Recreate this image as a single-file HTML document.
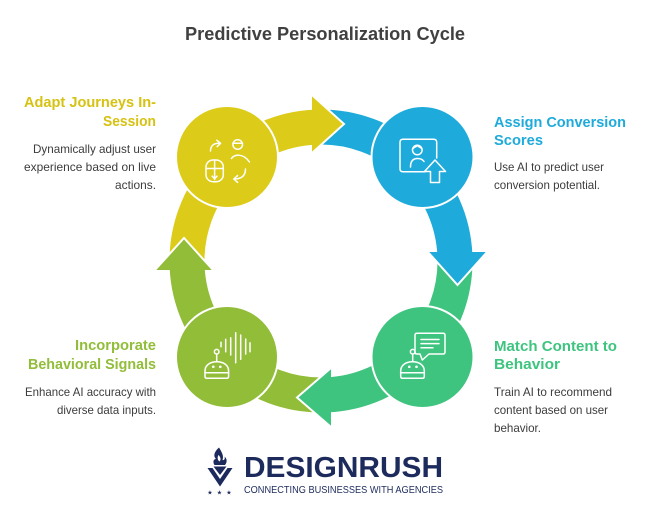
<!DOCTYPE html>
<html>
<head>
<meta charset="utf-8">
<style>
  html,body{margin:0;padding:0;background:#ffffff;}
  svg{display:block;}
  .t{font-family:"Liberation Sans",Arial,sans-serif;}
  .h{font-family:"Liberation Sans",Arial,sans-serif;font-weight:bold;font-size:14.5px;}
  .b{font-family:"Liberation Sans",Arial,sans-serif;font-size:11.8px;fill:#3c3c3c;}
  .ic{fill:none;stroke:#ffffff;stroke-width:1.5;stroke-linecap:round;stroke-linejoin:round;}
</style>
</head>
<body>
<svg width="650" height="514" viewBox="0 0 650 514" xmlns="http://www.w3.org/2000/svg">
  <rect width="650" height="514" fill="#ffffff"/>

  <!-- Title -->
  <text class="t" x="185" y="40" font-size="18" font-weight="bold" fill="#404040" textLength="280" lengthAdjust="spacingAndGlyphs">Predictive Personalization Cycle</text>

  <!-- Ring bands -->
  <g fill="none" stroke-width="35" stroke-linecap="butt">
    <path d="M187.0,263.3 A134,134 0 0 1 315.2,127.1" stroke="#dccb18"/>
    <path d="M318.7,127.0 A134,134 0 0 1 454.9,255.2" stroke="#1eabdb"/>
    <path d="M455.0,258.7 A134,134 0 0 1 326.8,394.9" stroke="#3ec47f"/>
    <path d="M323.3,395.0 A134,134 0 0 1 187.1,266.8" stroke="#92bd39"/>
  </g>

  <!-- Arrow heads (white outline only on slanted edges) -->
  <g stroke="#ffffff" stroke-width="2" stroke-linejoin="miter">
    <path d="M312,95 L344,124 L312,153" fill="#dccb18"/>
    <path d="M487,252 L457.5,285 L428,252" fill="#1eabdb"/>
    <path d="M331,427 L297,397.5 L331,368" fill="#3ec47f"/>
    <path d="M155,270 L184,238 L213,270" fill="#92bd39"/>
  </g>

  <!-- Circles -->
  <g stroke="#ffffff" stroke-width="2">
    <circle cx="227" cy="157" r="51" fill="#dccb18"/>
    <circle cx="422.5" cy="157" r="51" fill="#1eabdb"/>
    <circle cx="422.5" cy="357" r="51" fill="#3ec47f"/>
    <circle cx="227" cy="357" r="51" fill="#92bd39"/>
  </g>

  <!-- Yellow icon -->
  <g class="ic">
    <path d="M210.5,151 C210.5,145.5 214,142.8 220,143.3"/>
    <path d="M216.8,140.2 L220.6,143.3 L217.2,146.6"/>
    <circle cx="237.7" cy="144.5" r="4.8"/>
    <path d="M233,143.3 L242.4,143.3"/>
    <path d="M231.5,158.5 C233.5,154.5 243,152.5 249.5,162"/>
    <rect x="206" y="160" width="17.3" height="21.7" rx="7"/>
    <path d="M214.6,160 L214.6,179.5 M206,168.5 L223.3,168.5"/>
    <path d="M212.2,176.2 L214.6,178.7 L217,176.2"/>
    <path d="M245.5,169 C245.5,176 241.5,179 234,179"/>
    <path d="M237.6,175.6 L233.8,179 L237.6,182.4"/>
  </g>

  <!-- Blue icon -->
  <g class="ic">
    <path d="M425,171.7 L403,171.7 Q400,171.7 400,168.7 L400,142.3 Q400,139.3 403,139.3 L433.7,139.3 Q436.7,139.3 436.7,142.3 L436.7,158"/>
    <circle cx="417.3" cy="150" r="4.8"/>
    <path d="M412.6,149 C414,146.5 416,147.5 417.3,145.2 C418.6,147.5 420.6,146.5 422,149"/>
    <path d="M410.5,167 C410.5,161 413,158.5 417.5,158.5 C420.5,158.5 422.8,159.6 424,161.5"/>
    <path d="M435,160 L445.5,171.5 L439.5,171.5 L439.5,182.5 L430.5,182.5 L430.5,171.5 L424.5,171.5 Z"/>
  </g>

  <!-- Green icon -->
  <g class="ic">
    <path d="M429,354 L443,354 Q445,354 445,352 L445,335.3 Q445,333.3 443,333.3 L417,333.3 Q415,333.3 415,335.3 L415,352 Q415,354 417,354 L420,354 L422.3,360 Z"/>
    <path d="M421,339.5 L439,339.5 M421,343.6 L439,343.6 M421,347.7 L433,347.7"/>
    <circle cx="412.7" cy="351.7" r="2.3"/>
    <path d="M412.7,354 L412.7,361.7"/>
    <path d="M402.5,378.3 L422.5,378.3 Q424.3,378.3 424.3,376.5 L424.3,371 C424.3,365 419,361.7 412.5,361.7 C406,361.7 400.7,365 400.7,371 L400.7,376.5 Q400.7,378.3 402.5,378.3 Z"/>
    <path d="M400.7,372.7 L424.3,372.7"/>
    <circle cx="409.3" cy="366.8" r="0.6"/>
    <circle cx="416.5" cy="366.8" r="0.6"/>
  </g>

  <!-- Olive icon -->
  <g class="ic">
    <circle cx="216.7" cy="351.7" r="2.3"/>
    <path d="M216.7,354 L216.7,361.7"/>
    <path d="M206.8,378.3 L226.8,378.3 Q228.6,378.3 228.6,376.5 L228.6,371 C228.6,365 223.3,361.7 216.8,361.7 C210.3,361.7 205,365 205,371 L205,376.5 Q205,378.3 206.8,378.3 Z"/>
    <path d="M205,372.7 L228.6,372.7"/>
    <circle cx="213.3" cy="366.8" r="0.6"/>
    <circle cx="220.3" cy="366.8" r="0.6"/>
    <path d="M221,342.3 L221,346.7 M225.7,339.3 L225.7,351.7 M230.7,337.7 L230.7,355 M235.7,332.7 L235.7,362.7 M240.7,335 L240.7,359.3 M245.7,339 L245.7,354 M250,342.7 L250,351.7"/>
  </g>

  <!-- Yellow text (top-left) -->
  <text class="h" x="24" y="107" fill="#d6c212" textLength="132" lengthAdjust="spacingAndGlyphs">Adapt Journeys In-</text>
  <text class="h" x="103" y="126" fill="#d6c212" textLength="53" lengthAdjust="spacingAndGlyphs">Session</text>
  <text class="b" x="33" y="153" textLength="123" lengthAdjust="spacingAndGlyphs">Dynamically adjust user</text>
  <text class="b" x="24" y="171" textLength="132" lengthAdjust="spacingAndGlyphs">experience based on live</text>
  <text class="b" x="115" y="189" textLength="41" lengthAdjust="spacingAndGlyphs">actions.</text>

  <!-- Blue text (top-right) -->
  <text class="h" x="494" y="127" fill="#1eabdb" textLength="132" lengthAdjust="spacingAndGlyphs">Assign Conversion</text>
  <text class="h" x="494" y="145" fill="#1eabdb" textLength="49" lengthAdjust="spacingAndGlyphs">Scores</text>
  <text class="b" x="494" y="171" textLength="110" lengthAdjust="spacingAndGlyphs">Use AI to predict user</text>
  <text class="b" x="494" y="189" textLength="106" lengthAdjust="spacingAndGlyphs">conversion potential.</text>

  <!-- Olive text (bottom-left) -->
  <text class="h" x="75" y="350" fill="#92bd39" textLength="81" lengthAdjust="spacingAndGlyphs">Incorporate</text>
  <text class="h" x="28" y="369" fill="#92bd39" textLength="128" lengthAdjust="spacingAndGlyphs">Behavioral Signals</text>
  <text class="b" x="25" y="396" textLength="131" lengthAdjust="spacingAndGlyphs">Enhance AI accuracy with</text>
  <text class="b" x="57" y="414" textLength="99" lengthAdjust="spacingAndGlyphs">diverse data inputs.</text>

  <!-- Green text (bottom-right) -->
  <text class="h" x="494" y="351" fill="#3ec47f" textLength="123" lengthAdjust="spacingAndGlyphs">Match Content to</text>
  <text class="h" x="494" y="369" fill="#3ec47f" textLength="66" lengthAdjust="spacingAndGlyphs">Behavior</text>
  <text class="b" x="494" y="396" textLength="118" lengthAdjust="spacingAndGlyphs">Train AI to recommend</text>
  <text class="b" x="494" y="414" textLength="114" lengthAdjust="spacingAndGlyphs">content based on user</text>
  <text class="b" x="494" y="432" textLength="47" lengthAdjust="spacingAndGlyphs">behavior.</text>

  <!-- DesignRush logo -->
  <g fill="#1c2a5c">
    <path d="M219,447.5 C214,452 213,456 216,459 C213.5,459 212.5,462 214.5,465 L225,465 C227.5,462 227,458.5 224.5,456.5 C225.5,459 224,460.5 222.5,460 C224,456 222,452.5 219,447.5 Z"/>
    <path d="M218.5,455 C217,457.5 217.5,460 219.5,461.5 C221,460 221,457.5 218.5,455 Z" fill="#ffffff"/>
    <path d="M207.5,468 L212.5,468 L220,479 L227.5,468 L232.5,468 L220,486.5 Z"/>
    <path d="M213.5,466.5 L226.5,466.5 L220,475 Z"/>
    <text x="210" y="494.5" font-family="DejaVu Sans, sans-serif" font-size="6" text-anchor="middle">★</text>
    <text x="219.5" y="494.5" font-family="DejaVu Sans, sans-serif" font-size="6" text-anchor="middle">★</text>
    <text x="229" y="494.5" font-family="DejaVu Sans, sans-serif" font-size="6" text-anchor="middle">★</text>
  </g>
  <text class="t" x="244" y="477" font-size="29" font-weight="bold" fill="#1c2a5c" textLength="199" lengthAdjust="spacingAndGlyphs">DESIGNRUSH</text>
  <text class="t" x="244" y="493" font-size="9.8" fill="#1c2a5c" textLength="199" lengthAdjust="spacingAndGlyphs">CONNECTING BUSINESSES WITH AGENCIES</text>
</svg>
</body>
</html>
